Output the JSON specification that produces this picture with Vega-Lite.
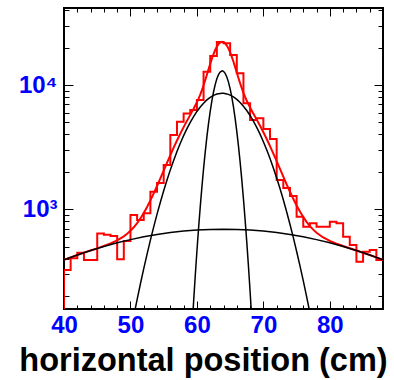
{
  "$schema": "https://vega.github.io/schema/vega-lite/v6.json",
  "width": 319,
  "height": 301,
  "autosize": {"type": "none"},
  "padding": {"left": 64, "top": 8, "right": 11, "bottom": 71},
  "background": "white",
  "config": {
    "view": {"stroke": "black", "strokeWidth": 2},
    "axis": {
      "grid": false,
      "domain": false,
      "tickColor": "black",
      "tickWidth": 1,
      "labelFont": "Liberation Sans",
      "labelFontWeight": "bold",
      "labelFontSize": 24,
      "labelColor": "#0000ff",
      "labelOverlap": false,
      "labelFlush": false,
      "titleFont": "Liberation Sans",
      "titleFontWeight": "bold",
      "titleFontSize": 32.5,
      "titleColor": "black"
    }
  },
  "datasets": {
    "hist": [
      {"i": 0, "x": 40, "y": 100},
      {"i": 1, "x": 40, "y": 325}, {"i": 2, "x": 41, "y": 403}, {"i": 3, "x": 42, "y": 448}, {"i": 4, "x": 43, "y": 391},
      {"i": 5, "x": 44, "y": 391}, {"i": 6, "x": 45, "y": 640}, {"i": 7, "x": 46, "y": 625}, {"i": 8, "x": 47, "y": 610},
      {"i": 9, "x": 48, "y": 396}, {"i": 10, "x": 49, "y": 556}, {"i": 11, "x": 50, "y": 899}, {"i": 12, "x": 51, "y": 820},
      {"i": 13, "x": 52, "y": 929}, {"i": 14, "x": 53, "y": 1387}, {"i": 15, "x": 54, "y": 1630}, {"i": 16, "x": 55, "y": 2270},
      {"i": 17, "x": 56, "y": 3963}, {"i": 18, "x": 57, "y": 5070}, {"i": 19, "x": 58, "y": 5910}, {"i": 20, "x": 59, "y": 6300},
      {"i": 21, "x": 60, "y": 7570}, {"i": 22, "x": 61, "y": 12800}, {"i": 23, "x": 62, "y": 17100}, {"i": 24, "x": 63, "y": 22190},
      {"i": 25, "x": 64, "y": 21630}, {"i": 26, "x": 65, "y": 17430}, {"i": 27, "x": 66, "y": 12420}, {"i": 28, "x": 67, "y": 7130},
      {"i": 29, "x": 68, "y": 5226}, {"i": 30, "x": 69, "y": 5395}, {"i": 31, "x": 70, "y": 4426}, {"i": 32, "x": 71, "y": 3680},
      {"i": 33, "x": 72, "y": 1722}, {"i": 34, "x": 73, "y": 1483}, {"i": 35, "x": 74, "y": 1278}, {"i": 36, "x": 75, "y": 871},
      {"i": 37, "x": 76, "y": 725}, {"i": 38, "x": 77, "y": 771}, {"i": 39, "x": 78, "y": 725}, {"i": 40, "x": 79, "y": 725},
      {"i": 41, "x": 80, "y": 794}, {"i": 42, "x": 81, "y": 771}, {"i": 43, "x": 82, "y": 602}, {"i": 44, "x": 83, "y": 517},
      {"i": 45, "x": 84, "y": 379}, {"i": 46, "x": 85, "y": 456}, {"i": 47, "x": 86, "y": 471}, {"i": 48, "x": 87, "y": 391},
      {"i": 49, "x": 88, "y": 391}
    ],
    "fit": [
      {"x": 40, "y": 391.7}, {"x": 41, "y": 410.4}, {"x": 42, "y": 429.0}, {"x": 43, "y": 447.7}, {"x": 44, "y": 466.1},
      {"x": 45, "y": 484.5}, {"x": 46, "y": 507.8}, {"x": 47, "y": 532.1}, {"x": 48, "y": 562.8}, {"x": 49, "y": 605.9},
      {"x": 49.5, "y": 634.9}, {"x": 50, "y": 671.2}, {"x": 50.5, "y": 716.5}, {"x": 51, "y": 773.4}, {"x": 51.5, "y": 844.7},
      {"x": 52, "y": 933.6}, {"x": 52.5, "y": 1043.6}, {"x": 53, "y": 1178.9}, {"x": 53.5, "y": 1342.9}, {"x": 54, "y": 1540.4},
      {"x": 54.5, "y": 1774}, {"x": 55, "y": 2047.8}, {"x": 55.5, "y": 2364}, {"x": 56, "y": 2725.6}, {"x": 56.5, "y": 3130},
      {"x": 57, "y": 3577}, {"x": 57.5, "y": 4064}, {"x": 58, "y": 4583}, {"x": 58.5, "y": 5147}, {"x": 59, "y": 5751},
      {"x": 59.5, "y": 6433}, {"x": 60, "y": 7267}, {"x": 60.25, "y": 7781}, {"x": 60.5, "y": 8385}, {"x": 60.75, "y": 9100},
      {"x": 61, "y": 9950}, {"x": 61.25, "y": 10946}, {"x": 61.5, "y": 12093}, {"x": 61.75, "y": 13382}, {"x": 62, "y": 14785},
      {"x": 62.25, "y": 16256}, {"x": 62.5, "y": 17730}, {"x": 62.75, "y": 19124}, {"x": 63, "y": 20354}, {"x": 63.25, "y": 21333},
      {"x": 63.5, "y": 21986}, {"x": 63.75, "y": 22264}, {"x": 64, "y": 22144}, {"x": 64.25, "y": 21637}, {"x": 64.5, "y": 20780},
      {"x": 64.75, "y": 19643}, {"x": 65, "y": 18303}, {"x": 65.25, "y": 16851}, {"x": 65.5, "y": 15371}, {"x": 65.75, "y": 13933},
      {"x": 66, "y": 12594}, {"x": 66.25, "y": 11388}, {"x": 66.5, "y": 10331}, {"x": 66.75, "y": 9425}, {"x": 67, "y": 8658},
      {"x": 67.25, "y": 8012}, {"x": 67.5, "y": 7464}, {"x": 68, "y": 6586}, {"x": 68.5, "y": 5883}, {"x": 69, "y": 5266},
      {"x": 69.5, "y": 4700}, {"x": 70, "y": 4168}, {"x": 70.5, "y": 3676}, {"x": 71, "y": 3220}, {"x": 71.5, "y": 2807},
      {"x": 72, "y": 2438}, {"x": 72.5, "y": 2112}, {"x": 73, "y": 1831}, {"x": 73.5, "y": 1589}, {"x": 74, "y": 1385},
      {"x": 74.5, "y": 1214.5}, {"x": 75, "y": 1074}, {"x": 75.5, "y": 959}, {"x": 76, "y": 867}, {"x": 76.5, "y": 792},
      {"x": 77, "y": 733}, {"x": 77.5, "y": 686}, {"x": 78, "y": 648}, {"x": 79, "y": 593.3}, {"x": 80, "y": 556.2},
      {"x": 81, "y": 528.8}, {"x": 82, "y": 506.1}, {"x": 83, "y": 485.9}, {"x": 84, "y": 466.6}, {"x": 85, "y": 447.7},
      {"x": 86, "y": 429.0}, {"x": 87, "y": 410.4}, {"x": 88, "y": 391.7}
    ],
    "comps": [
      {"c": "wide", "x": 40, "y": 391.7}, {"c": "wide", "x": 42, "y": 429.0}, {"c": "wide", "x": 44, "y": 466.1},
      {"c": "wide", "x": 46, "y": 502.5}, {"c": "wide", "x": 48, "y": 537.4}, {"c": "wide", "x": 50, "y": 570.2},
      {"c": "wide", "x": 52, "y": 600.2}, {"c": "wide", "x": 54, "y": 626.9}, {"c": "wide", "x": 56, "y": 649.6},
      {"c": "wide", "x": 58, "y": 667.8}, {"c": "wide", "x": 60, "y": 681.1}, {"c": "wide", "x": 62, "y": 689.3},
      {"c": "wide", "x": 64, "y": 692}, {"c": "wide", "x": 66, "y": 689.3}, {"c": "wide", "x": 68, "y": 681.1},
      {"c": "wide", "x": 70, "y": 667.8}, {"c": "wide", "x": 72, "y": 649.6}, {"c": "wide", "x": 74, "y": 626.9},
      {"c": "wide", "x": 76, "y": 600.2}, {"c": "wide", "x": 78, "y": 570.2}, {"c": "wide", "x": 80, "y": 537.4},
      {"c": "wide", "x": 82, "y": 502.5}, {"c": "wide", "x": 84, "y": 466.1}, {"c": "wide", "x": 86, "y": 429.0},
      {"c": "wide", "x": 88, "y": 391.7},
      {"c": "medium", "x": 49.5, "y": 72.7}, {"c": "medium", "x": 50, "y": 101}, {"c": "medium", "x": 50.5, "y": 138.5},
      {"c": "medium", "x": 51, "y": 187.8}, {"c": "medium", "x": 51.5, "y": 251.7}, {"c": "medium", "x": 52, "y": 333.4},
      {"c": "medium", "x": 52.5, "y": 436.4}, {"c": "medium", "x": 53, "y": 564.8}, {"c": "medium", "x": 53.5, "y": 722.3},
      {"c": "medium", "x": 54, "y": 913.5}, {"c": "medium", "x": 54.5, "y": 1141}, {"c": "medium", "x": 55, "y": 1409},
      {"c": "medium", "x": 55.5, "y": 1720}, {"c": "medium", "x": 56, "y": 2076}, {"c": "medium", "x": 56.5, "y": 2475},
      {"c": "medium", "x": 57, "y": 2918}, {"c": "medium", "x": 57.5, "y": 3400}, {"c": "medium", "x": 58, "y": 3915},
      {"c": "medium", "x": 58.5, "y": 4456}, {"c": "medium", "x": 59, "y": 5013}, {"c": "medium", "x": 59.5, "y": 5575},
      {"c": "medium", "x": 60, "y": 6126}, {"c": "medium", "x": 60.5, "y": 6656}, {"c": "medium", "x": 61, "y": 7146},
      {"c": "medium", "x": 61.5, "y": 7584}, {"c": "medium", "x": 62, "y": 7955}, {"c": "medium", "x": 62.5, "y": 8248},
      {"c": "medium", "x": 63, "y": 8453}, {"c": "medium", "x": 63.5, "y": 8562}, {"c": "medium", "x": 63.8, "y": 8580},
      {"c": "medium", "x": 64, "y": 8572}, {"c": "medium", "x": 64.5, "y": 8482}, {"c": "medium", "x": 65, "y": 8297},
      {"c": "medium", "x": 65.5, "y": 8021}, {"c": "medium", "x": 66, "y": 7664}, {"c": "medium", "x": 66.5, "y": 7238},
      {"c": "medium", "x": 67, "y": 6757}, {"c": "medium", "x": 67.5, "y": 6234}, {"c": "medium", "x": 68, "y": 5686},
      {"c": "medium", "x": 68.5, "y": 5126}, {"c": "medium", "x": 69, "y": 4566}, {"c": "medium", "x": 69.5, "y": 4021},
      {"c": "medium", "x": 70, "y": 3500}, {"c": "medium", "x": 70.5, "y": 3012}, {"c": "medium", "x": 71, "y": 2561},
      {"c": "medium", "x": 71.5, "y": 2152}, {"c": "medium", "x": 72, "y": 1788}, {"c": "medium", "x": 72.5, "y": 1468},
      {"c": "medium", "x": 73, "y": 1192}, {"c": "medium", "x": 73.5, "y": 956}, {"c": "medium", "x": 74, "y": 757.8},
      {"c": "medium", "x": 74.5, "y": 593.9}, {"c": "medium", "x": 75, "y": 460.1}, {"c": "medium", "x": 75.5, "y": 352},
      {"c": "medium", "x": 76, "y": 266.6}, {"c": "medium", "x": 76.5, "y": 199.3}, {"c": "medium", "x": 77, "y": 147.3},
      {"c": "medium", "x": 77.5, "y": 107.7}, {"c": "medium", "x": 78, "y": 77.7},
      {"c": "narrow", "x": 58.5, "y": 19.5}, {"c": "narrow", "x": 59, "y": 62.8}, {"c": "narrow", "x": 59.25, "y": 107.8},
      {"c": "narrow", "x": 59.5, "y": 179.9}, {"c": "narrow", "x": 59.75, "y": 291.7}, {"c": "narrow", "x": 60, "y": 459.4},
      {"c": "narrow", "x": 60.25, "y": 703.3}, {"c": "narrow", "x": 60.5, "y": 1045}, {"c": "narrow", "x": 60.75, "y": 1509},
      {"c": "narrow", "x": 61, "y": 2118}, {"c": "narrow", "x": 61.25, "y": 2886}, {"c": "narrow", "x": 61.5, "y": 3821},
      {"c": "narrow", "x": 61.75, "y": 4914}, {"c": "narrow", "x": 62, "y": 6141}, {"c": "narrow", "x": 62.25, "y": 7454},
      {"c": "narrow", "x": 62.5, "y": 8791}, {"c": "narrow", "x": 62.75, "y": 10071}, {"c": "narrow", "x": 63, "y": 11210},
      {"c": "narrow", "x": 63.25, "y": 12121}, {"c": "narrow", "x": 63.5, "y": 12732}, {"c": "narrow", "x": 63.8, "y": 13000},
      {"c": "narrow", "x": 64, "y": 12880}, {"c": "narrow", "x": 64.25, "y": 12405}, {"c": "narrow", "x": 64.5, "y": 11606},
      {"c": "narrow", "x": 64.75, "y": 10550}, {"c": "narrow", "x": 65, "y": 9315}, {"c": "narrow", "x": 65.25, "y": 7991},
      {"c": "narrow", "x": 65.5, "y": 6659}, {"c": "narrow", "x": 65.75, "y": 5391}, {"c": "narrow", "x": 66, "y": 4241},
      {"c": "narrow", "x": 66.25, "y": 3240}, {"c": "narrow", "x": 66.5, "y": 2405}, {"c": "narrow", "x": 66.75, "y": 1734},
      {"c": "narrow", "x": 67, "y": 1215}, {"c": "narrow", "x": 67.25, "y": 827}, {"c": "narrow", "x": 67.5, "y": 546.7},
      {"c": "narrow", "x": 67.75, "y": 351}, {"c": "narrow", "x": 68, "y": 219}, {"c": "narrow", "x": 68.25, "y": 132.8},
      {"c": "narrow", "x": 68.5, "y": 78.2}
    ]
  },
  "layer": [
    {
      "data": {"name": "hist"},
      "mark": {"type": "line", "interpolate": "step-after", "color": "#ff0000", "strokeWidth": 2, "clip": true},
      "encoding": {
        "x": {
          "field": "x", "type": "quantitative",
          "scale": {"domain": [40, 88], "nice": false, "zero": false},
          "axis": {
            "orient": "bottom",
            "values": [40, 42, 44, 46, 48, 50, 52, 54, 56, 58, 60, 62, 64, 66, 68, 70, 72, 74, 76, 78, 80, 82, 84, 86, 88],
            "tickSize": {"condition": {"test": "datum.value % 10 === 0", "value": -8}, "value": -4},
            "labelExpr": "datum.value % 10 === 0 && datum.value < 88 ? datum.label : ''",
            "labelPadding": 12,
            "title": "horizontal position (cm)",
            "titleX": 139,
            "titleAlign": "center",
            "titleAnchor": null,
            "titlePadding": 3
          }
        },
        "y": {
          "field": "y", "type": "quantitative",
          "scale": {"type": "log", "domain": [157.7, 41650], "nice": false},
          "axis": {
            "orient": "left",
            "values": [200, 300, 400, 500, 600, 700, 800, 900, 1000, 2000, 3000, 4000, 5000, 6000, 7000, 8000, 9000, 10000, 20000, 30000, 40000],
            "tickSize": {"condition": {"test": "datum.value === 1000 || datum.value === 10000", "value": -9}, "value": -5},
            "labelExpr": "datum.value === 1000 ? '10³' : datum.value === 10000 ? '10⁴' : ''",
            "labelPadding": 16,
            "title": null
          }
        },
        "order": {"field": "i", "type": "quantitative"}
      }
    },
    {
      "data": {"name": "fit"},
      "mark": {"type": "line", "color": "#ff0000", "strokeWidth": 2, "clip": true},
      "encoding": {
        "x": {"field": "x", "type": "quantitative", "axis": null},
        "y": {"field": "y", "type": "quantitative", "axis": null}
      }
    },
    {
      "data": {"name": "comps"},
      "mark": {"type": "line", "color": "black", "strokeWidth": 1.5, "clip": true},
      "encoding": {
        "x": {"field": "x", "type": "quantitative", "axis": null},
        "y": {"field": "y", "type": "quantitative", "axis": null},
        "detail": {"field": "c", "type": "nominal"}
      }
    },
    {
      "data": {"name": "hist"},
      "mark": {"type": "point", "opacity": 0},
      "encoding": {
        "x": {
          "field": "x", "type": "quantitative",
          "axis": {
            "orient": "top",
            "values": [40, 42, 44, 46, 48, 50, 52, 54, 56, 58, 60, 62, 64, 66, 68, 70, 72, 74, 76, 78, 80, 82, 84, 86, 88],
            "tickSize": {"condition": {"test": "datum.value % 10 === 0", "value": -8}, "value": -4},
            "labels": false,
            "title": null
          }
        },
        "y": {
          "field": "y", "type": "quantitative",
          "axis": {
            "orient": "right",
            "values": [200, 300, 400, 500, 600, 700, 800, 900, 1000, 2000, 3000, 4000, 5000, 6000, 7000, 8000, 9000, 10000, 20000, 30000, 40000],
            "tickSize": {"condition": {"test": "datum.value === 1000 || datum.value === 10000", "value": -9}, "value": -5},
            "labels": false,
            "title": null
          }
        }
      }
    }
  ],
  "resolve": {"axis": {"x": "independent", "y": "independent"}}
}
